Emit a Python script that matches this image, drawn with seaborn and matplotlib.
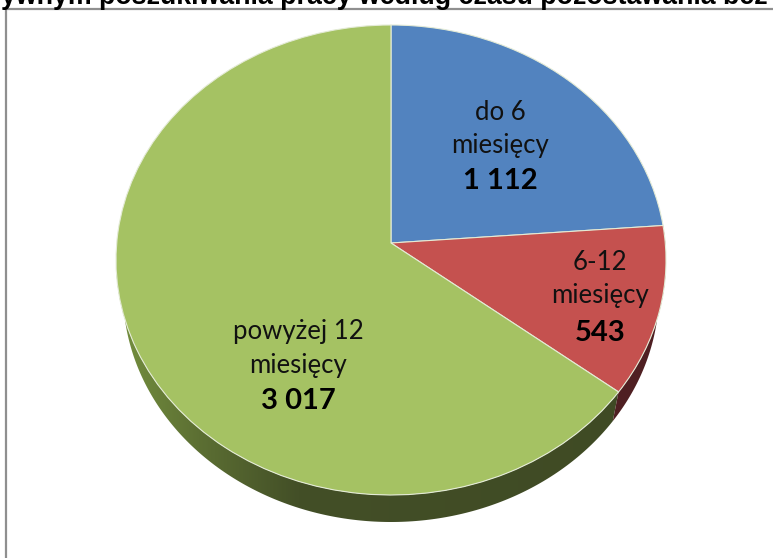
import matplotlib
matplotlib.use('Agg')
import matplotlib.pyplot as plt
from matplotlib.colors import LinearSegmentedColormap
from matplotlib.patches import Polygon, Rectangle
from matplotlib.transforms import Transform
import seaborn as sns
import numpy as np

categories = ['do 6\nmiesięcy', '6-12\nmiesięcy', 'powyżej 12\nmiesięcy']
values = [1112, 543, 3017]
value_labels = ['1 112', '543', '3 017']
title_text = 'ywnym poszukiwania pracy według czasu pozostawania bez'

sns.set_theme(style='white')
plt.rcParams['font.family'] = ['Lato', 'DejaVu Sans']
palette = sns.color_palette(['#5283bf', '#c5514f', '#a5c263'])

W, H = 773, 558
cx, cy, rx, ry = 391, 260, 275, 235
apex_px = 243                      # where the slices meet, above the middle of the ellipse
low_cy, low_rx, low_ry = 292, 268, 230   # bottom ellipse of the pie
k = (cy - apex_px) / ry


def tilt(xy):
    # projective map of the unit disc onto itself, gives the 3d look
    x, y = xy[:, 0], xy[:, 1]
    den = 1 + k * y
    return np.column_stack([x * np.sqrt(1 - k ** 2) / den, (y + k) / den])


class Tilt(Transform):
    input_dims = 2
    output_dims = 2

    def transform_non_affine(self, values):
        return tilt(np.asarray(values))


def rim_angle(deg):
    p = tilt(np.array([[np.cos(np.radians(deg)), np.sin(np.radians(deg))]]))[0]
    return np.degrees(np.arctan2(p[1], p[0]))


def rim(t0, t1):
    t = np.radians(np.linspace(t0, t1, 200))
    top = np.column_stack([np.cos(t), np.sin(t)])
    low = np.column_stack([np.cos(t) * low_rx / rx, np.sin(t) * low_ry / ry - (low_cy - cy) / ry])
    return np.vstack([top, low[::-1]])


fig = plt.figure(figsize=(W / 100, H / 100), dpi=100)
ax = fig.add_axes([0, 0, 1, 1])

# frame round the chart, cut off by the picture on the right and below
fig.add_artist(Rectangle((6 / W, -0.1), 1.2, 1 - 9 / H + 0.1, transform=fig.transFigure,
                         fill=False, edgecolor='#8f8f8f', linewidth=1.6))

shares = np.array(values) / sum(values) * 360
green_start = rim_angle(90 - shares[0] - shares[1])
red_start = rim_angle(90 - shares[0])

# side of the green slice, lighter on the far left
side_cmap = LinearSegmentedColormap.from_list(
    'side', [(0, '#75903f'), (0.15, '#5c6f33'), (0.33, '#434f27'), (1, '#3f4a24')])
im = ax.imshow(np.linspace(0, 1, 256).reshape(1, -1), cmap=side_cmap, extent=(-1, 1, -1.3, 0),
               aspect='auto', zorder=1)
side = Polygon(rim(180, 360 + green_start), closed=True, facecolor='none', edgecolor='none')
ax.add_patch(side)
im.set_clip_path(side)
ax.add_patch(Polygon(rim(green_start, red_start), closed=True, facecolor='#4f1f22',
                     edgecolor='none', zorder=1))

wedges, _ = ax.pie(values, colors=palette, startangle=90, counterclock=False, radius=1,
                   wedgeprops={'edgecolor': '#e4ebd6', 'linewidth': 0.8, 'zorder': 2})
for w in wedges:
    w.set_transform(Tilt() + ax.transData)

ax.set_aspect('auto')
ax.set_xlim(-cx / rx, (W - cx) / rx)
ax.set_ylim(-(H - cy) / ry, cy / ry)
ax.set_axis_off()

label_pos = [(500, 113, 146, 181), (600, 262, 296, 333), (298, 332, 366, 401)]
for cat, val, (x, y1, y2, y3) in zip(categories, value_labels, label_pos):
    line1, line2 = cat.split('\n')
    fig.text(x / W, 1 - y1 / H, line1, ha='center', va='center', fontsize=18.5, color='#111111')
    fig.text(x / W, 1 - y2 / H, line2, ha='center', va='center', fontsize=18.5, color='#111111')
    fig.text(x / W, 1 - y3 / H, val, ha='center', va='center', fontsize=21, fontweight='bold', color='#000000')

fig.text(384 / W, 1 - 4 / H, title_text, ha='center', va='baseline', fontsize=19.3, fontweight='bold',
         family=['Liberation Sans'], color='#000000')

fig.savefig('out.png', dpi=100)
